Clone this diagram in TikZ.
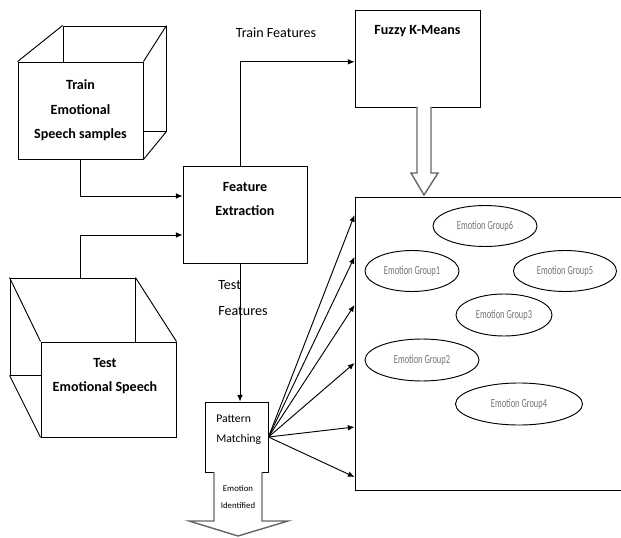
\documentclass[tikz,border=0pt]{standalone}
\usepackage{fontspec}
\setmainfont{Carlito}
\newfontfamily\grpfont[FakeStretch=0.68]{Carlito}
\usetikzlibrary{shapes.geometric,arrows.meta}

\begin{document}
\begin{tikzpicture}[x=0.03cm, y=-0.03cm, line width=0.8pt,
  box/.style={draw, fill=white, rectangle, inner sep=0pt},
  title/.style={font=\bfseries\fontsize{12}{21}\selectfont, align=center},
  group/.style={draw, ellipse, inner sep=0pt, text=black!55, font=\grpfont\fontsize{10.5}{11}\selectfont},
  conn/.style={-{Latex[length=2mm,width=1.7mm]}},
  hollow/.style={draw=black!60, line width=1.2pt, fill=white}]
\useasboundingbox (0,0) rectangle (621,538);
\clip (0,0) rectangle (621,538);
%Train samples cube:
\node[box, minimum width=3.09cm, minimum height=3.15cm] (trainBack) at (114.5,78.5) {};
\node[box, title, minimum width=3.75cm, minimum height=2.91cm] (train) at (80.5,110.5) {Train\\Emotional\\Speech samples};
\draw (trainBack.north west) -- (train.north west) (trainBack.north east) -- (train.north east)
  (trainBack.south east) -- (train.south east);
%Test speech cube:
\node[box, minimum width=3.75cm, minimum height=2.91cm] (testBack) at (72.5,326.5) {};
\node[box, minimum width=4.05cm, minimum height=2.85cm] (test) at (108.5,389.5) {};
\node[title, text depth=0pt] (testText) at (105,375) {Test\\Emotional Speech};
\draw (testBack.north west) -- (test.north west) (testBack.north east) -- (test.north east)
  (testBack.south west) -- (test.south west);
%Feature extraction:
\node[box, minimum width=3.72cm, minimum height=2.91cm] (fe) at (245,214.5) {};
\node[title, fill=none] (feText) at (245,199) {Feature\\Extraction};
%Fuzzy K-Means:
\node[box, minimum width=3.75cm, minimum height=2.91cm] (fuzzy) at (417.5,58.5) {};
\node[title] (fuzzyText) at (417.5,31) {Fuzzy K-Means};
%Pattern matching:
\node[box, minimum width=1.89cm, minimum height=2.1cm] (pm) at (236.5,437) {};
\node[anchor=west, align=left, font=\fontsize{10}{17}\selectfont] (pmText) at (212,430) {Pattern\\Matching};
%Emotion groups:
\node[draw, rectangle, minimum width=8.55cm, minimum height=8.79cm] (groups) at (497.5,343.5) {};
\node[group, minimum width=3.12cm, minimum height=1.23cm] (g6) at (485,226) {Emotion Group6};
\node[group, minimum width=2.82cm, minimum height=1.23cm] (g1) at (412,271) {Emotion Group1};
\node[group, minimum width=3.09cm, minimum height=1.23cm] (g5) at (565,271) {Emotion Group5};
\node[group, minimum width=2.88cm, minimum height=1.26cm] (g3) at (504,315) {Emotion Group3};
\node[group, minimum width=3.42cm, minimum height=1.26cm] (g2) at (422,360) {Emotion Group2};
\node[group, minimum width=3.81cm, minimum height=1.26cm] (g4) at (519,404) {Emotion Group4};
%Connectors:
\draw[conn] (train.south) |- ([yshift=0.555cm]fe.west);
\draw[conn] (train.south |- testBack.north) |- ([yshift=-0.615cm]fe.west);
\draw[conn] ([xshift=-0.15cm]fe.north) |- ([yshift=-0.1cm]fuzzy.west);
\draw[conn] ([xshift=-0.15cm]fe.south) -- ([xshift=-0.15cm]fe.south |- pm.north);
\node[font=\fontsize{12}{21}\selectfont] (trainLbl) at (276,33) {Train Features};
\node[anchor=west, align=left, font=\fontsize{12}{22}\selectfont] (testLbl) at (214,298) {Test\\Features};
\foreach \ty in {215,257,305,363,427,477}
  \draw[conn] (pm.east) -- (groups.west |- 0,\ty);
%Hollow arrows:
\draw[hollow] (417,107) -- (417,173) -- (411,173) -- (424,195) -- (438,173) -- (431,173) -- (431,107);
\draw[hollow] (214,472) -- (214,521) -- (189,521) -- (238,536) -- (288,521) -- (262,521) -- (262,472);
\node[align=center, font=\fontsize{7.5}{15}\selectfont] (eiText) at (238,497) {Emotion\\Identified};
\end{tikzpicture}
\end{document}
